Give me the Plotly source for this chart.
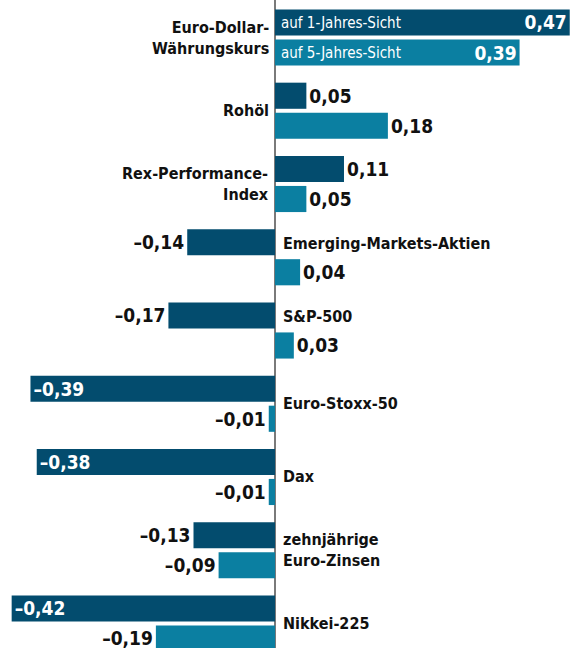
import plotly.graph_objects as go

# Daten
categories = [
    'Euro-Dollar-<br>Währungskurs',
    'Rohöl',
    'Rex-Performance-<br>Index',
    'Emerging-Markets-Aktien',
    'S&P-500',
    'Euro-Stoxx-50',
    'Dax',
    'zehnjährige<br>Euro-Zinsen',
    'Nikkei-225',
]
vals_1y = [0.47, 0.05, 0.11, -0.14, -0.17, -0.39, -0.38, -0.13, -0.42]
vals_5y = [0.39, 0.18, 0.05, 0.04, 0.03, -0.01, -0.01, -0.09, -0.19]
series_names = ['auf 1-Jahres-Sicht', 'auf 5-Jahres-Sicht']

PAL = {
    'navy': '#034c6e',
    'teal': '#0b7fa1',
    'ink': '#111111',
    'axis': '#7a7a7a',
}
FONT = 'DejaVu Sans Condensed, sans-serif'

# Beschriftung innerhalb des Balkens, wenn er lang genug ist
INSIDE_MIN = 0.3


def fmt(v):
    return f'{v:.2f}'.replace('.', ',').replace('-', '\u2013')


fig = go.Figure()
for name, vals, color in [(series_names[0], vals_1y, PAL['navy']),
                          (series_names[1], vals_5y, PAL['teal'])]:
    fig.add_trace(go.Bar(
        x=vals, y=categories, orientation='h', name=name,
        marker=dict(color=color, line=dict(width=0)),
        text=[fmt(v) for v in vals],
        textposition=['inside' if abs(v) >= INSIDE_MIN else 'outside' for v in vals],
        insidetextanchor='end',
        insidetextfont=dict(family=FONT, size=19, color='white', weight='bold'),
        outsidetextfont=dict(family=FONT, size=19, color=PAL['ink'], weight='bold'),
        textfont=dict(family=FONT, size=19, weight='bold'),
        constraintext='none',
        cliponaxis=False,
        showlegend=False,
    ))

# Kategorie-Beschriftungen an der Nulllinie
for cat, a, b in zip(categories, vals_1y, vals_5y):
    left = a >= 0 and b >= 0
    yshift = 14 if (a < 0 and b > 0) else 0
    fig.add_annotation(
        x=0, y=cat, text=cat, showarrow=False,
        xanchor='right' if left else 'left', align='right' if left else 'left',
        xshift=-4 if left else 6, yshift=yshift,
        font=dict(family=FONT, size=16, color=PAL['ink'], weight='bold'),
    )

# Legende im ersten Balkenpaar
for name, shift in zip(series_names, [15, -15]):
    fig.add_annotation(
        x=0, y=categories[0], text=name, showarrow=False,
        xanchor='left', xshift=4, yshift=shift,
        font=dict(family=FONT, size=15, color='white'),
    )

fig.update_layout(
    width=576, height=648,
    margin=dict(l=0, r=0, t=0, b=0),
    paper_bgcolor='white', plot_bgcolor='white',
    barmode='group', bargap=0.18, bargroupgap=0.13,
    xaxis=dict(range=[-0.4386, 0.48], showgrid=False, showticklabels=False,
               zeroline=True, zerolinecolor=PAL['axis'], zerolinewidth=1.5),
    yaxis=dict(range=[8.335, -0.512], showgrid=False, showticklabels=False,
               zeroline=False),
    font=dict(family=FONT),
)

fig.write_html('out.html', config={'displayModeBar': False},
               post_script="document.body.style.margin='0';")
